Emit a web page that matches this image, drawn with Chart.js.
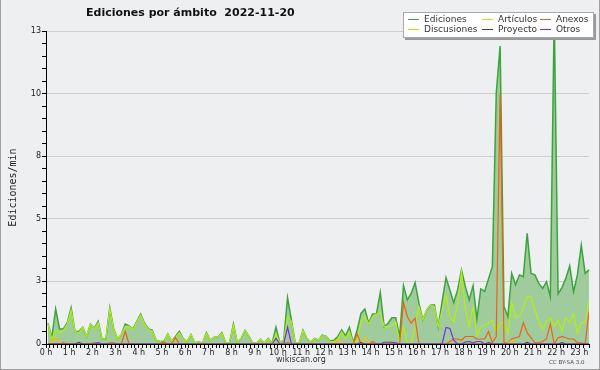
<!DOCTYPE html>
<html>
<head>
<meta charset="utf-8">
<script src="https://cdn.jsdelivr.net/npm/chart.js@4.4.1/dist/chart.umd.min.js"></script>
<style>
html, body { margin: 0; padding: 0; }
body { width: 600px; height: 370px; position: relative; background: #eeeff0; overflow: hidden; font-family: "DejaVu Sans", sans-serif; }
#frame { position: absolute; left: 0; top: 0; width: 598px; height: 369px; border: 1px solid #a0a0a0; border-top: none; pointer-events: none; }
canvas { position: absolute; left: 0; top: 0; }
#title { position: absolute; left: 86px; top: 6px; font-size: 11px; line-height: 13px; font-weight: bold; color: #111; white-space: pre; }
#legend { position: absolute; left: 403px; top: 12px; width: 189px; height: 24px; background: #fff; border: 1px solid #aaa; box-shadow: 2px 2px 0 #999; }
.item { position: absolute; font-size: 9px; line-height: 10px; color: #333; white-space: nowrap; }
.item i { position: absolute; left: 0; top: 5px; width: 11px; height: 1px; }
.item span { margin-left: 16px; }
#site { position: absolute; left: 276px; top: 355px; font-size: 8px; line-height: 10px; color: #333; }
#cc { position: absolute; left: 549px; top: 359px; font-size: 5.5px; line-height: 7px; color: #444; }
</style>
</head>
<body>
<canvas id="chart" width="600" height="370"></canvas>
<div id="title">Ediciones por ámbito  2022-11-20</div>
<div id="legend"></div>
<div id="site">wikiscan.org</div>
<div id="cc">CC BY-SA 3.0</div>
<div id="frame"></div>
<script>
// 10-minute bins, 00:00 - 23:30
const ediciones = [
  0.83,0.25,1.4,0.6,0.6,0.85,1.45,0.5,0.5,0.67,
  0.3,0.8,0.62,0.9,0.2,0.2,1.45,0.62,0.2,0.38,
  0.8,0.72,0.6,0.9,1.2,0.83,0.6,0.55,0.15,0.1,
  0.1,0.4,0.1,0.3,0.5,0.22,0.08,0.38,0.05,0.08,
  0.03,0.45,0.15,0.27,0.28,0.45,0.05,0.05,0.8,0.05,
  0.22,0.55,0.3,0.03,0.03,0.2,0.03,0.22,0.03,0.67,
  0.05,0.15,1.85,0.95,0.03,0.03,0.55,0.22,0.08,0.22,
  0.15,0.35,0.3,0.12,0.15,0.3,0.56,0.33,0.67,0.05,
  0.55,1.22,1.4,0.83,1.2,1.2,2.06,0.69,0.83,1.05,
  1.05,0.29,2.33,1.76,2.02,2.45,1.62,0.96,1.35,1.56,
  1.56,0.69,1.7,2.65,2.16,1.65,2.16,2.96,2.3,1.76,
  2.33,1.0,2.2,2.1,2.6,3.1,10.0,11.9,1.5,1.09,
  2.82,2.36,2.76,2.69,4.42,2.82,2.76,2.42,2.22,2.49,
  1.89,13.2,2.0,2.25,2.62,3.12,2.09,2.76,3.95,2.82,
  2.96
];
const articulos = [
  0.8,0.2,0.55,0.45,0.55,0.8,1.35,0.5,0.45,0.67,
  0.3,0.8,0.6,0.85,0.2,0.2,1.4,0.6,0.2,0.38,
  0.7,0.7,0.58,0.88,1.15,0.8,0.58,0.52,0.15,0.1,
  0.05,0.4,0.1,0.25,0.45,0.2,0.08,0.38,0.05,0.08,
  0.03,0.42,0.15,0.27,0.28,0.43,0.05,0.05,0.75,0.05,
  0.22,0.55,0.3,0.03,0.03,0.2,0.03,0.2,0.03,0.42,
  0.05,0.15,1.1,0.9,0.03,0.03,0.53,0.22,0.08,0.22,
  0.15,0.33,0.3,0.1,0.1,0.2,0.49,0.23,0.49,0.03,
  0.15,0.89,1.12,0.8,1.1,1.2,1.25,0.69,0.69,0.72,
  0.89,0.09,0.67,0.05,0.05,0.69,1.49,0.96,1.36,1.56,
  1.49,0.69,1.35,1.96,1.09,0.89,1.6,2.89,1.4,0.7,
  1.5,0.35,0.7,0.75,0.85,0.95,0.5,0.8,0.9,0.4,
  1.65,1.05,1.1,1.45,1.89,1.89,1.35,0.9,0.6,0.9,
  1.05,0.7,0.96,0.5,1.05,0.85,1.2,0.43,0.85,0.85,
  1.76
];
const anexos = [
  0,0,0,0,0.05,0,0,0,0,0,
  0,0,0.05,0,0,0,0.05,0.05,0,0,
  0.5,0,0,0,0,0,0,0,0,0,
  0.08,0,0,0.25,0,0,0,0,0,0,
  0,0,0,0,0,0,0,0,0,0,
  0,0,0,0,0,0,0,0,0,0,
  0,0,0.05,0,0,0,0,0,0,0,
  0,0,0,0,0,0,0,0,0,0,
  0.4,0,0,0,0.1,0,0,0,0,0.05,
  0,0,1.66,1.09,0.83,1.03,0,0,0,0,
  0,0,0,0,0.1,0.2,0.2,0.15,0.3,0.3,
  0.3,0.2,0.2,0.2,0.5,0.05,0.3,10.0,0.05,0.05,
  0.2,0.25,0.3,0.85,0.45,0.25,0.05,0.05,0.1,0.2,
  0.8,0,0.25,0.3,0.25,0.2,0.2,0.05,0.05,0,
  1.3
];
const discusiones = [
  0,0.1,0.28,0.1,0,0.05,0,0,0,0,
  0,0,0,0,0,0,0,0,0,0,
  0,0,0,0,0,0,0,0,0,0,
  0,0,0,0,0,0,0,0,0,0,
  0,0,0,0,0,0,0,0,0,0,
  0,0,0,0,0,0,0,0,0,0,
  0,0,0,0,0,0,0,0,0,0,
  0,0,0,0,0.05,0.2,0.05,0,0,0,
  0,0,0.27,0.05,0,0,0,0.05,0,0,
  0,0,0,0,0,0,0,0,0,0,
  0,0,0,0,0,0,0,0,0,0,
  0,0,0,0,0,0,0,0,0,0.05,
  0.15,0,0,0,0,0,0,0,0,0,
  0,0,0,0,0,0,0,0,0,0,
  0
];
const proyecto = [
  0,0,0,0,0,0,0,0,0.06,0,
  0,0,0,0,0,0,0,0,0,0,
  0,0,0,0,0,0,0,0,0,0,
  0,0,0,0,0,0,0,0,0,0,
  0,0,0,0,0,0,0,0,0,0,
  0,0,0,0,0,0,0,0,0,0,
  0,0,0,0,0,0,0,0,0,0,
  0,0,0,0,0,0,0,0,0,0,
  0,0.05,0,0,0,0,0,0,0,0,
  0,0,0,0,0,0,0,0,0,0,
  0,0,0,0,0,0,0,0,0,0,
  0,0,0,0,0.05,0,0,0,0,0,
  0,0,0,0,0.06,0,0,0,0,0,
  0,0,0,0.05,0,0,0,0,0,0,
  0
];
const otros = [
  0,0,0,0,0,0,0,0,0,0,
  0,0,0,0.05,0,0,0,0,0,0,
  0,0,0,0,0,0,0,0,0,0,
  0,0,0,0,0,0,0,0,0,0,
  0,0,0,0,0,0,0,0,0,0,
  0,0,0,0,0,0,0,0,0,0.23,
  0,0,0.67,0,0,0,0,0,0,0,
  0,0,0,0,0,0,0,0,0,0,
  0,0,0,0,0,0,0,0.07,0.07,0.07,
  0.05,0,0,0,0,0,0,0,0,0,
  0,0,0,0.66,0.62,0.15,0,0,0.08,0.1,
  0.05,0.1,0.1,0,0,0,0,0,0,0,
  0,0,0,0,0,0,0,0,0,0,
  0,0,0,0,0,0,0,0,0,0,
  0
];
const yTicks = [0, 2.5, 5, 7.5, 10, 12.5];

const series = [
  { label: 'Ediciones', data: ediciones, color: '#3aa53a', col: 0, row: 0 },
  { label: 'Artículos', data: articulos, color: '#b4ee10', col: 1, row: 0 },
  { label: 'Anexos', data: anexos, color: '#f06018', col: 2, row: 0 },
  { label: 'Discusiones', data: discusiones, color: '#f5c400', col: 0, row: 1 },
  { label: 'Proyecto', data: proyecto, color: '#444444', col: 1, row: 1 },
  { label: 'Otros', data: otros, color: '#7a2bf0', col: 2, row: 1 }
];

// bin centres in minutes
const toPoints = arr => arr.map((v, i) => ({ x: i * 10 + 5, y: v }));

const legend = document.getElementById('legend');
const colX = [4, 78, 136];
series.forEach(s => {
  const el = document.createElement('div');
  el.className = 'item';
  el.style.left = colX[s.col] + 'px';
  el.style.top = (1 + s.row * 10) + 'px';
  el.innerHTML = `<i style="background:${s.color}"></i><span>${s.label}</span>`;
  legend.appendChild(el);
});

const datasets = series.map((s, k) => ({
  label: s.label,
  data: toPoints(s.data),
  borderColor: s.color,
  borderWidth: k === 0 ? 1.5 : 1.2,
  backgroundColor: k === 0 ? '#a0cb9c' : s.color,
  fill: k === 0 ? 'origin' : false,
  pointRadius: 0,
  tension: 0,
  clip: k === 0 ? false : undefined,
  order: k === 0 ? 10 : 6 - k
}));

const tickFont = { family: 'DejaVu Sans', size: 8 };

new Chart(document.getElementById('chart'), {
  type: 'line',
  data: { datasets },
  options: {
    responsive: false,
    animation: false,
    devicePixelRatio: 1,
    layout: { padding: { top: 31, right: 11, bottom: 0, left: 0 } },
    plugins: { legend: { display: false }, tooltip: { enabled: false } },
    scales: {
      x: {
        type: 'linear',
        min: 0,
        max: 1405,
        afterFit: s => { s.height = 26; },
        ticks: {
          stepSize: 10,
          autoSkip: false,
          maxRotation: 0,
          padding: 0,
          color: '#222',
          font: tickFont,
          callback: v => (v % 60 === 0 ? `${v / 60} h` : '')
        },
        grid: { drawOnChartArea: false, tickLength: 4, tickColor: '#000' },
        border: { color: '#000', width: 1 }
      },
      y: {
        min: 0,
        max: 12.5,
        afterFit: s => { s.width = 46; },
        ticks: {
          stepSize: 0.5,
          autoSkip: false,
          padding: 1,
          color: '#222',
          font: tickFont,
          callback: v => (yTicks.includes(v) ? Math.round(v) : '')
        },
        grid: {
          tickLength: 4,
          tickColor: '#000',
          color: ctx => (ctx.tick && yTicks.includes(ctx.tick.value) ? '#cdcdcd' : 'rgba(0,0,0,0)')
        },
        border: { color: '#000', width: 1 },
        title: {
          display: true,
          text: 'Ediciones/min',
          color: '#222',
          font: { family: 'DejaVu Sans Mono', size: 10 },
          padding: { top: 7, bottom: 0 }
        }
      }
    }
  }
});
</script>
</body>
</html>
